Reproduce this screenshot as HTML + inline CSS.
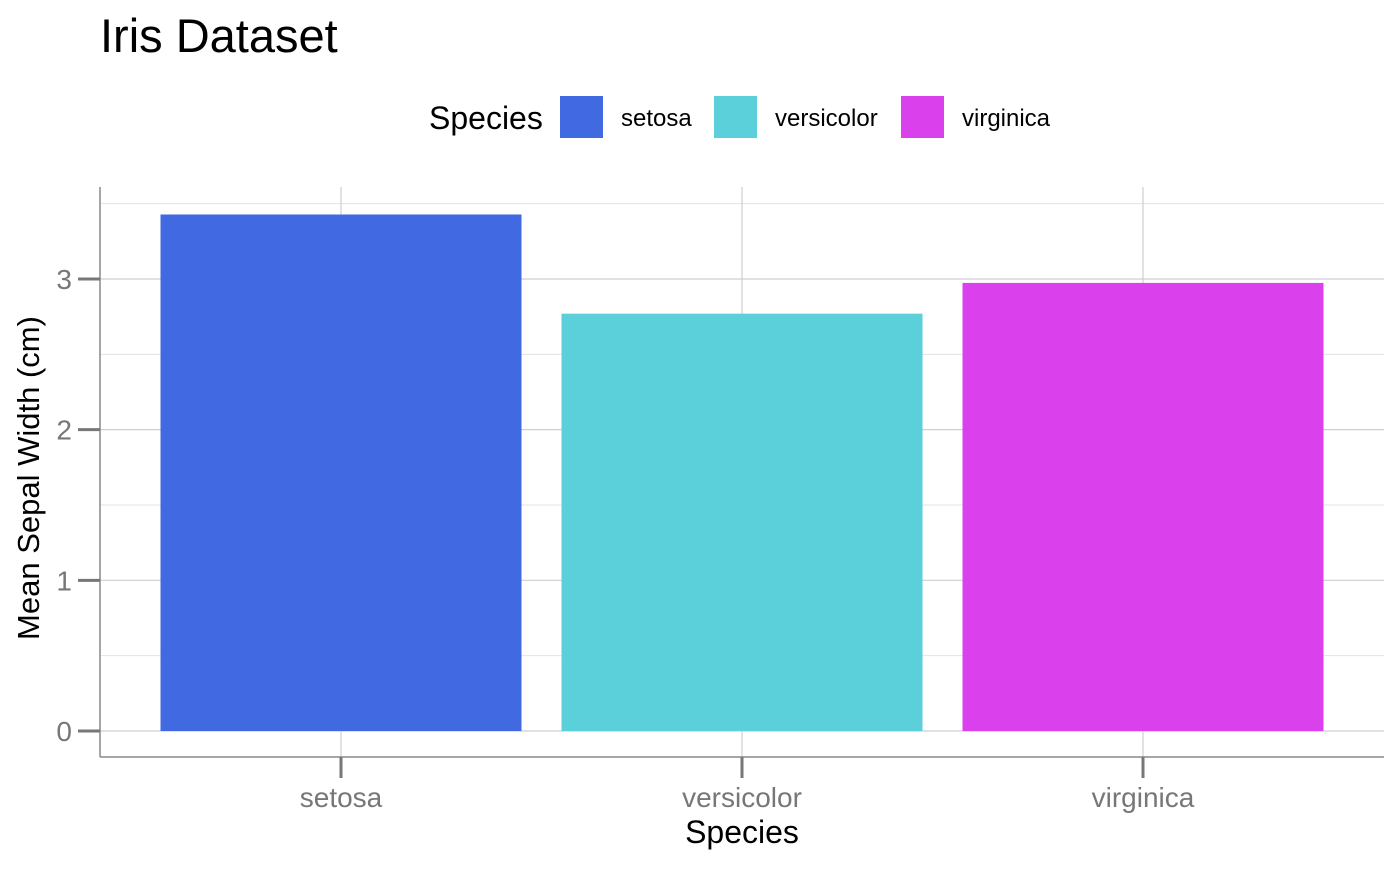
<!DOCTYPE html>
<html><head><meta charset="utf-8"><style>
body{margin:0;background:#fff}
svg text{font-family:"Liberation Sans",sans-serif}
</style></head><body>
<svg id="chart" width="1400" height="866" xmlns="http://www.w3.org/2000/svg">
<text x="100" y="52" font-size="47" fill="#000">Iris Dataset</text>
<g id="legend">
<text x="429" y="129" font-size="32" fill="#000">Species</text>
</g>
<g id="grid"></g><g id="bars"></g><g id="axes"></g>
<text x="742" y="843" font-size="32" text-anchor="middle" fill="#000">Species</text>
<text transform="translate(39,478) rotate(-90)" font-size="31" text-anchor="middle" fill="#000">Mean Sepal Width (cm)</text>
</svg>
<script>
const categories=["setosa","versicolor","virginica"];
const values=[3.428,2.770,2.974];
const colors=["#4169E1","#5BCFDA","#DA40EC"];
const yTicks=[0,1,2,3];
const yMinor=[0.5,1.5,2.5,3.5];
const NS="http://www.w3.org/2000/svg";
const L=100,R=1384,T=187,B=757;
const y0=731,unit=150.67;
const y=v=>y0-v*unit;
const x=i=>341+401*i;
const bw=361;
function mk(tag,attrs,parent){const e=document.createElementNS(NS,tag);for(const k in attrs)e.setAttribute(k,attrs[k]);parent.appendChild(e);return e;}
const g=document.getElementById('grid'),b=document.getElementById('bars'),a=document.getElementById('axes'),lg=document.getElementById('legend');
yMinor.forEach(v=>{if(y(v)<T)return;const l=mk('line',{x1:L,x2:R,y1:y(v),y2:y(v),stroke:'#e3e3e3','stroke-width':1},g);

});
yTicks.forEach(v=>{const l=mk('line',{x1:L,x2:R,y1:y(v),y2:y(v),stroke:'#cfcfcf','stroke-width':1.2},g);

});
categories.forEach((c,i)=>{const l=mk('line',{x1:x(i),x2:x(i),y1:T,y2:B,stroke:'#cfcfcf','stroke-width':1.2},g);

});
categories.forEach((c,i)=>{const r=mk('rect',{x:x(i)-bw/2,y:y(values[i]),width:bw,height:y(0)-y(values[i]),fill:colors[i]},b);

});
let l1=mk('line',{x1:L,x2:L,y1:T,y2:B,stroke:'#888','stroke-width':1.5},a);


let l2=mk('line',{x1:L,x2:R,y1:B,y2:B,stroke:'#888','stroke-width':1.5},a);


yTicks.forEach(v=>{const t=mk('line',{x1:78,x2:L,y1:y(v),y2:y(v),stroke:'#777','stroke-width':3},a);


const tx=mk('text',{x:72,y:y(v)+10,'font-size':28,'text-anchor':'end',fill:'#777'},a);tx.textContent=v;

});
categories.forEach((c,i)=>{const t=mk('line',{x1:x(i),x2:x(i),y1:B,y2:778,stroke:'#777','stroke-width':3},a);


const tx=mk('text',{x:x(i),y:807,'font-size':28,'text-anchor':'middle',fill:'#777'},a);tx.textContent=c;

});
const keyX=[560,714,901];
categories.forEach((c,i)=>{const r=mk('rect',{x:keyX[i],y:96,width:43,height:42,fill:colors[i]},lg);


const tx=mk('text',{x:keyX[i]+61,y:126,'font-size':24,fill:'#000'},lg);tx.textContent=c;

});
</script>
</body></html>
